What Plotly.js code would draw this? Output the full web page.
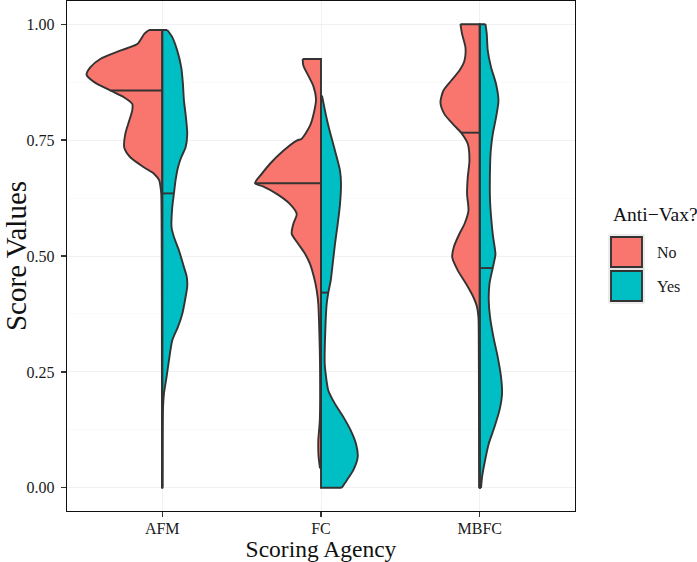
<!DOCTYPE html>
<html>
<head>
<meta charset="utf-8">
<script src="https://cdn.plot.ly/plotly-3.0.1.min.js"></script>
<style>html,body{margin:0;padding:0;background:#fff;}#chart{width:697px;height:562px;}</style>
</head>
<body>
<div id="chart"></div>
<script>
// ---- data ----
const categories = ['AFM', 'FC', 'MBFC'];
const groups = ['No', 'Yes'];
const groupColors = ['#F8766D', '#00BFC4'];
const yTickVals = [0, 0.25, 0.5, 0.75, 1];
const yTickText = ['0.00', '0.25', '0.50', '0.75', '1.00'];

// density profiles: score value (top -> bottom) and half-width density
const afmNoY = [0.9875, 0.979, 0.957, 0.943, 0.925, 0.907, 0.891, 0.875, 0.857, 0.842, 0.828, 0.814, 0.792, 0.763, 0.734, 0.713, 0.691, 0.677, 0.663, 0.648, 0.634, 0.55, 0.4, 0.2, 0.0];
const afmNoD = [13.3, 18, 25, 42, 62, 72, 75.7, 68, 52, 38, 30, 30, 33, 37, 38, 32, 18, 8, 3, 1.7, 1, 0.6, 0.4, 0.3, 0.3];
const afmYesY = [0.9875, 0.972, 0.943, 0.907, 0.871, 0.835, 0.799, 0.763, 0.734, 0.713, 0.691, 0.663, 0.635, 0.605, 0.562, 0.541, 0.512, 0.476, 0.455, 0.435, 0.411, 0.375, 0.347, 0.318, 0.275, 0.239, 0.203, 0.167, 0.1, 0.0];
const afmYesD = [5, 10, 15, 19, 20.7, 21.7, 23.7, 25, 23.3, 19, 15.7, 13.3, 11.7, 10, 9.3, 11.7, 16.7, 21.7, 24.5, 25, 23.3, 20, 15.7, 10, 6.7, 4.3, 1.7, 0.7, 0.4, 0.3];
const fcNoY = [0.925, 0.911, 0.889, 0.867, 0.839, 0.810, 0.781, 0.753, 0.749, 0.727, 0.699, 0.677, 0.657, 0.650, 0.634, 0.612, 0.591, 0.569, 0.548, 0.526, 0.505, 0.483, 0.454, 0.426, 0.397, 0.339, 0.268, 0.145, 0.102, 0.07, 0.042];
const fcNoD = [18.3, 17.7, 12.7, 7.7, 5, 7, 11, 19.3, 24.3, 37.7, 51, 59.3, 66, 58, 44.3, 31, 24.3, 27.7, 29.3, 22.7, 16, 11, 7, 4.3, 2.7, 1.7, 1, 1.2, 2.7, 2.5, 1];
const fcYesY = [0.846, 0.824, 0.803, 0.771, 0.727, 0.684, 0.656, 0.612, 0.569, 0.526, 0.483, 0.447, 0.421, 0.397, 0.339, 0.268, 0.253, 0.210, 0.181, 0.153, 0.124, 0.095, 0.066, 0.038, 0.016, 0.0];
const fcYesD = [1, 3, 5, 8.5, 14, 19, 20, 19, 16.7, 14, 11.7, 9.7, 7.3, 5.7, 4.3, 3.7, 4.3, 7.3, 14, 22.3, 29.7, 35, 36.7, 32.3, 25.7, 20.7];
const mbfcNoY = [1.0, 0.979, 0.950, 0.921, 0.900, 0.878, 0.857, 0.831, 0.806, 0.785, 0.766, 0.742, 0.706, 0.670, 0.634, 0.598, 0.569, 0.548, 0.519, 0.497, 0.469, 0.440, 0.411, 0.390, 0.368, 0.332, 0.2, 0.0];
const mbfcNoD = [19.3, 17.7, 14.3, 15.3, 20.3, 28.7, 36.3, 39.3, 35.3, 27, 18.7, 12, 10.3, 12, 12.7, 11.3, 15.3, 20.3, 26, 27.5, 22, 13.7, 6.3, 2.7, 1.3, 1, 0.8, 0.6];
const mbfcYesY = [1.0, 0.979, 0.943, 0.907, 0.871, 0.835, 0.799, 0.763, 0.727, 0.691, 0.619, 0.547, 0.504, 0.491, 0.474, 0.440, 0.404, 0.368, 0.325, 0.282, 0.239, 0.203, 0.167, 0.131, 0.095, 0.059, 0.023, 0.0];
const mbfcYesD = [5.7, 7, 8, 11.3, 16.3, 18.7, 16.3, 13, 11, 10.3, 10.3, 13, 15.7, 14.7, 13, 9.7, 9, 10.3, 13.7, 18, 21.3, 22.3, 19.7, 14.7, 9, 5.3, 2.3, 1.3];

const medianNo = [0.857, 0.657, 0.766];
const medianYes = [0.635, 0.421, 0.474];

// ---- build ----
const DENS_SCALE = 1 / 158.75; // density units -> category-axis units
const outline = '#333333';
const LW = 1.9;
const FONT = 'Liberation Serif, Times New Roman, serif';
const SPLINE = {shape: 'spline', smoothing: 0.7};

const profiles = [
  [[afmNoY, afmNoD], [afmYesY, afmYesD]],
  [[fcNoY, fcNoD], [fcYesY, fcYesD]],
  [[mbfcNoY, mbfcNoD], [mbfcYesY, mbfcYesD]]
];
const medians = [medianNo, medianYes];

function interp(ys, ds, v) {
  for (let i = 0; i < ys.length - 1; i++) {
    const a = ys[i], b = ys[i + 1];
    if (v <= a && v >= b) {
      const t = (a - v) / (a - b);
      return ds[i] + t * (ds[i + 1] - ds[i]);
    }
  }
  return 0;
}

const fills = [];
const lines = [];
categories.forEach((cat, ci) => {
  const c = ci + 1;
  groups.forEach((g, gi) => {
    const side = gi === 0 ? -1 : 1;
    const [ys, ds] = profiles[ci][gi];
    const xs = ds.map(d => c + side * d * DENS_SCALE);
    const top = ys[0], bot = ys[ys.length - 1];
    // invisible centre path, then the density outline filled back to it
    fills.push({type: 'scatter', mode: 'lines', x: [c, c], y: [top, bot],
      line: {width: 0, color: 'rgba(0,0,0,0)'}, showlegend: false, hoverinfo: 'skip'});
    fills.push({type: 'scatter', mode: 'lines', x: xs, y: ys,
      fill: 'tonextx', fillcolor: groupColors[gi],
      line: Object.assign({width: 0, color: 'rgba(0,0,0,0)'}, SPLINE),
      name: g, showlegend: false, hoverinfo: 'skip'});
    // strokes
    lines.push({type: 'scatter', mode: 'lines', x: xs, y: ys,
      line: Object.assign({color: outline, width: LW}, SPLINE), showlegend: false, hoverinfo: 'skip'});
    lines.push({type: 'scatter', mode: 'lines', x: [xs[0], c, c, xs[xs.length - 1]], y: [top, top, bot, bot],
      line: {color: outline, width: LW}, showlegend: false, hoverinfo: 'skip'});
    const m = medians[gi][ci];
    const dm = interp(ys, ds, m);
    lines.push({type: 'scatter', mode: 'lines',
      x: [c, c + side * dm * DENS_SCALE], y: [m, m],
      line: {color: outline, width: LW}, showlegend: false, hoverinfo: 'skip'});
  });
});

// legend drawn in pixel positions
const L = 67, R = 575, T = 1, B = 511;
const px2x = p => (p - L) / (R - L);
const py2y = p => (B - p) / (B - T);
const shapes = [];
const annotations = [];
const keyTops = [236, 270];
groups.forEach((g, gi) => {
  shapes.push({type: 'rect', xref: 'paper', yref: 'paper',
    x0: px2x(609), x1: px2x(644), y0: py2y(keyTops[gi] - 1), y1: py2y(keyTops[gi] + 33),
    line: {color: '#d9d9d9', width: 1}, fillcolor: 'rgba(0,0,0,0)'});
  shapes.push({type: 'rect', xref: 'paper', yref: 'paper',
    x0: px2x(611), x1: px2x(642), y0: py2y(keyTops[gi] + 1), y1: py2y(keyTops[gi] + 31),
    line: {color: outline, width: 1.9}, fillcolor: groupColors[gi]});
  annotations.push({xref: 'paper', yref: 'paper', x: px2x(655), y: py2y(keyTops[gi] + 16),
    xanchor: 'left', yanchor: 'middle', showarrow: false, text: g,
    font: {family: FONT, size: 16, color: '#1a1a1a'}});
});
annotations.push({xref: 'paper', yref: 'paper', x: px2x(611), y: py2y(215),
  xanchor: 'left', yanchor: 'middle', showarrow: false, text: 'Anti\u2212Vax?',
  font: {family: FONT, size: 19.5, color: '#111'}});

const layout = {
  width: 697, height: 562,
  margin: {l: 67, r: 122, t: 1, b: 51},
  paper_bgcolor: '#fff', plot_bgcolor: '#fff',
  showlegend: false,
  font: {family: FONT, color: '#1a1a1a'},
  xaxis: {
    range: [0.4, 3.6], tickvals: [1, 2, 3], ticktext: categories,
    showgrid: true, gridcolor: '#ededed', gridwidth: 0.8, zeroline: false,
    showline: true, mirror: true, linecolor: '#111', linewidth: 1.3,
    ticks: 'outside', ticklen: 5, tickwidth: 1.2, tickcolor: '#333',
    ticklabelstandoff: -3,
    tickfont: {family: FONT, size: 16, color: '#1a1a1a'},
    title: {text: 'Scoring Agency', font: {family: FONT, size: 23.5, color: '#111'}, standoff: 8}
  },
  yaxis: {
    range: [-0.05, 1.05], tickvals: yTickVals, ticktext: yTickText,
    showgrid: true, gridcolor: '#ededed', gridwidth: 0.8, zeroline: false,
    minor: {tickvals: [0.125, 0.375, 0.625, 0.875], showgrid: true, gridcolor: '#f6f6f6', gridwidth: 0.6, ticks: ''},
    showline: true, mirror: true, linecolor: '#111', linewidth: 1.3,
    ticks: 'outside', ticklen: 5, tickwidth: 1.2, tickcolor: '#333',
    ticklabelstandoff: 3,
    tickfont: {family: FONT, size: 16, color: '#1a1a1a'},
    title: {text: 'Score Values', font: {family: FONT, size: 29, color: '#111'}, standoff: 6}
  },
  shapes: shapes,
  annotations: annotations
};

Plotly.newPlot('chart', fills.concat(lines), layout, {displayModeBar: false, staticPlot: true});
</script>
</body>
</html>
